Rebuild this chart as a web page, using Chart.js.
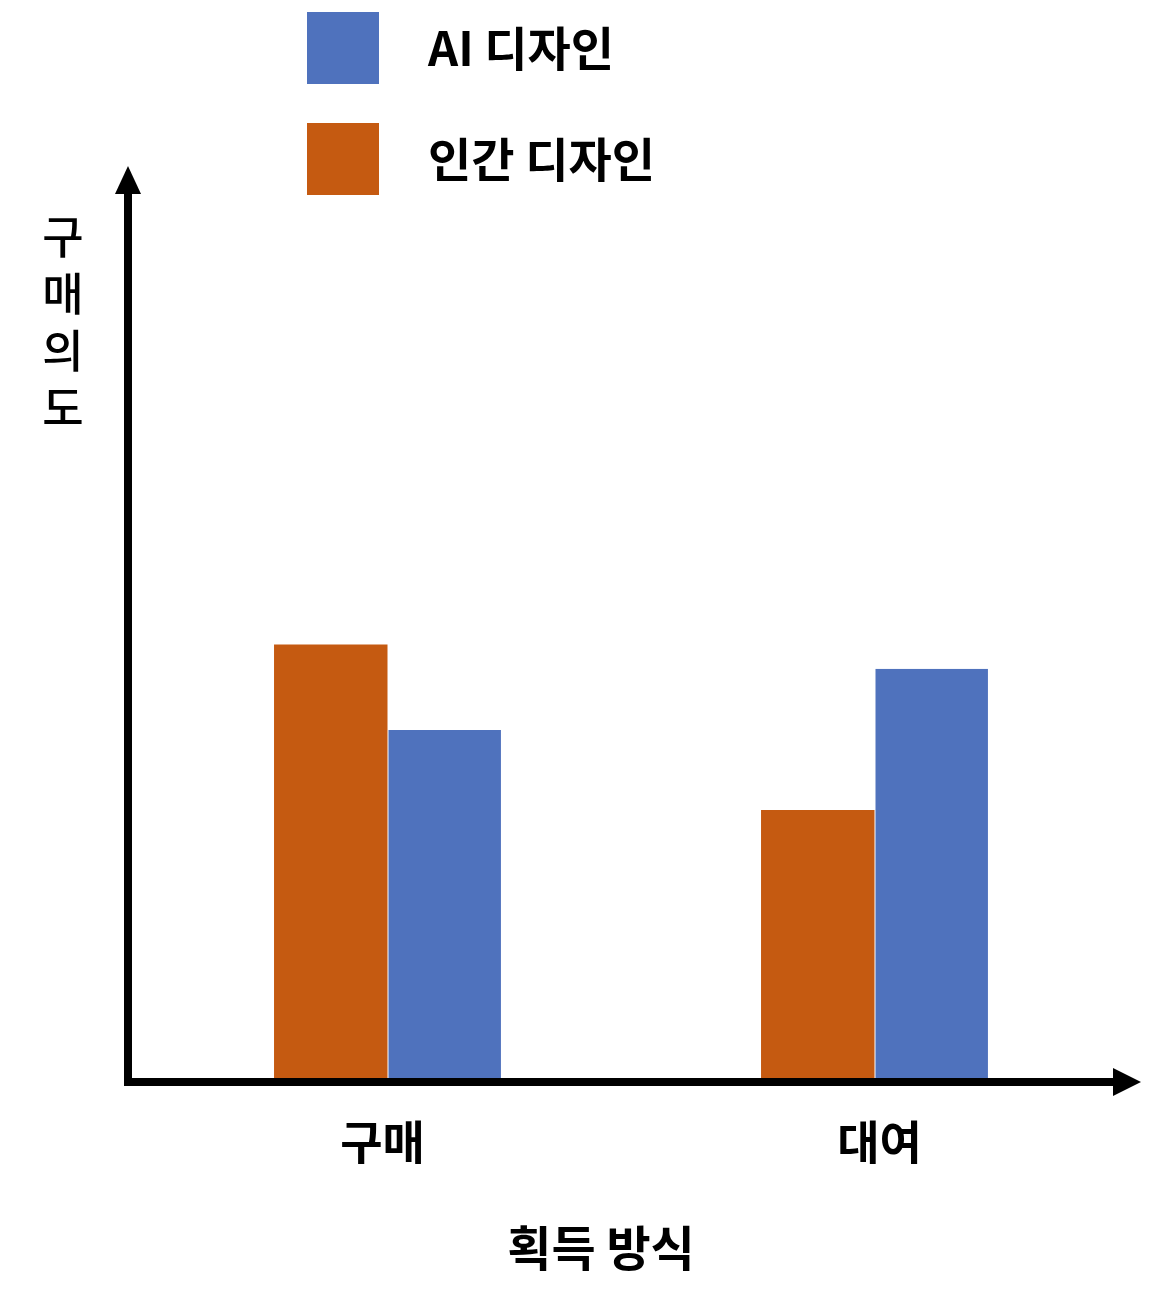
<!DOCTYPE html>
<html>
<head>
<meta charset="utf-8">
<script src="https://cdn.jsdelivr.net/npm/chart.js@4"></script>
<style>
  html, body { margin: 0; padding: 0; background: #ffffff; }
  #wrap { width: 1169px; height: 1308px; }
</style>
</head>
<body>
<div id="wrap"><canvas id="c" width="1169" height="1308"></canvas></div>
<script>
// ---- data ----
const categories = ['구매', '대여'];
const humanValues = [48.4, 30.0];
const aiValues = [38.9, 45.7];
const seriesNames = ['인간 디자인', 'AI 디자인'];
const legendOrder = [1, 0];
const xAxisTitle = '획득 방식';
const yAxisTitle = '구매의도';

const FONT = '"Noto Sans CJK KR", "Noto Sans", sans-serif';
const ORANGE = '#C55A11';
const BLUE = '#4F72BD';

const decor = {
  id: 'decor',
  afterDatasetsDraw(chart) {
    const ctx = chart.ctx;
    const xs = chart.scales.x;
    const ys = chart.scales.y;
    const base = ys.getPixelForValue(0) + 2;
    const ax = 128;
    ctx.save();
    ctx.fillStyle = '#000';
    ctx.strokeStyle = '#000';
    ctx.lineWidth = 8;
    // y axis
    ctx.beginPath();
    ctx.moveTo(ax, base + 4);
    ctx.lineTo(ax, 190);
    ctx.stroke();
    ctx.beginPath();
    ctx.moveTo(ax, 166);
    ctx.lineTo(ax - 13, 194);
    ctx.lineTo(ax + 13, 194);
    ctx.closePath();
    ctx.fill();
    // x axis
    ctx.beginPath();
    ctx.moveTo(ax - 4, base);
    ctx.lineTo(1116, base);
    ctx.stroke();
    ctx.beginPath();
    ctx.moveTo(1141, base);
    ctx.lineTo(1113, base - 14);
    ctx.lineTo(1113, base + 14);
    ctx.closePath();
    ctx.fill();

    // category labels
    const nudge = [-5, 5];
    ctx.font = 'bold 46px ' + FONT;
    ctx.textAlign = 'center';
    ctx.textBaseline = 'middle';
    categories.forEach((c, i) => {
      ctx.fillText(c, xs.getPixelForValue(i) + nudge[i], 1142);
    });
    // x axis title
    ctx.font = 'bold 48px ' + FONT;
    ctx.fillText(xAxisTitle, 601, 1248);

    // y title, stacked vertically
    ctx.font = '500 45px ' + FONT;
    const chars = Array.from(yAxisTitle);
    chars.forEach((ch, i) => {
      ctx.fillText(ch, 63, 237 + i * 57);
    });

    // legend
    const ds = chart.data.datasets;
    ctx.font = 'bold 47px ' + FONT;
    ctx.textAlign = 'left';
    legendOrder.forEach((di, k) => {
      const top = 12 + k * 111;
      ctx.fillStyle = ds[di].backgroundColor;
      ctx.fillRect(307, top, 72, 72);
      ctx.fillStyle = '#000';
      ctx.fillText(ds[di].label, 428, top + 36);
    });
    ctx.restore();
  }
};

new Chart(document.getElementById('c'), {
  type: 'bar',
  data: {
    labels: categories,
    datasets: [
      { label: seriesNames[0], data: humanValues, backgroundColor: ORANGE,
        borderWidth: 0 },
      { label: seriesNames[1], data: aiValues, backgroundColor: BLUE,
        borderColor: '#ffffff', borderWidth: { left: 1, top: 0, right: 0, bottom: 0 }, borderSkipped: false }
    ]
  },
  options: {
    responsive: false,
    animation: false,
    devicePixelRatio: 1,
    categoryPercentage: 0.466,
    barPercentage: 1,
    layout: { padding: { left: 144, right: 51, top: 180, bottom: 228 } },
    scales: {
      x: { display: false },
      y: { display: false, min: 0, max: 100 }
    },
    plugins: {
      legend: { display: false },
      tooltip: { enabled: false }
    }
  },
  plugins: [decor]
});
</script>
</body>
</html>
